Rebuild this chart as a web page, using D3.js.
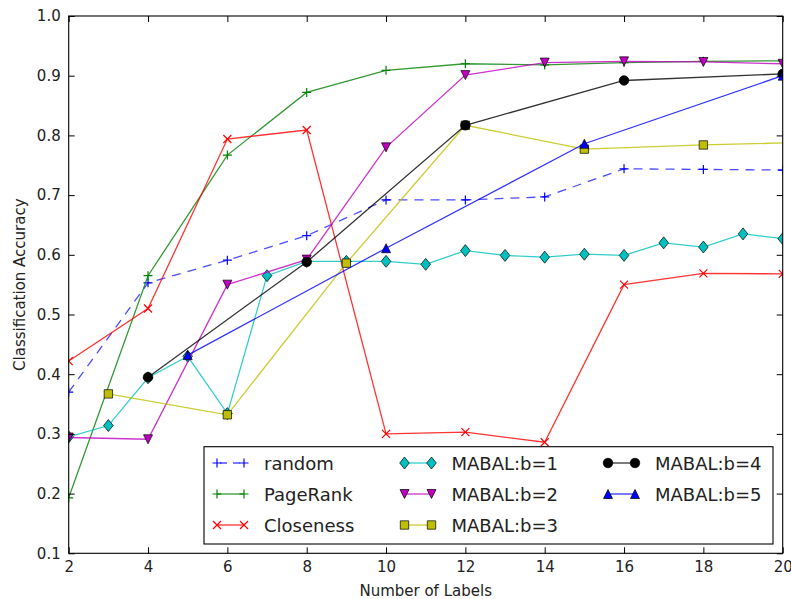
<!DOCTYPE html>
<html>
<head>
<meta charset="utf-8">
<script src="https://cdn.jsdelivr.net/npm/d3@7"></script>
<style>
  body { margin: 0; background: #fff; }
  svg text { font-family: "DejaVu Sans", sans-serif; fill: #222; }
</style>
</head>
<body>
<div id="svganchor"></div>
<script>
let width = 791;
let height = 599;
let margin = ({top: 16, right: 8.3, bottom: 45.7, left: 68.7});

// x values of each series
let xEvery2 = [2, 4, 6, 8, 10, 12, 14, 16, 18, 20];
let xEvery1 = [2, 3, 4, 5, 6, 7, 8, 9, 10, 11, 12, 13, 14, 15, 16, 17, 18, 19, 20];
let xEvery3 = [3, 6, 9, 12, 15, 18, 21];
let xEvery4 = [4, 8, 12, 16, 20];
let xEvery5 = [5, 10, 15, 20];

// accuracies
let randomAcc = [0.37, 0.553, 0.591, 0.632, 0.692, 0.692, 0.697, 0.744, 0.743, 0.742];
let pageRankAcc = [0.193, 0.565, 0.767, 0.872, 0.909, 0.920, 0.918, 0.922, 0.924, 0.925];
let closenessAcc = [0.422, 0.51, 0.794, 0.809, 0.30, 0.303, 0.286, 0.55, 0.569, 0.568];
let mabal1Acc = [0.295, 0.314, 0.394, 0.430, 0.334, 0.565, 0.589, 0.589, 0.589, 0.584,
                 0.607, 0.599, 0.596, 0.601, 0.599, 0.620, 0.613, 0.635, 0.627];
let mabal2Acc = [0.294, 0.291, 0.55, 0.592, 0.780, 0.901, 0.922, 0.924, 0.923, 0.920];
let mabal3Acc = [0.367, 0.332, 0.586, 0.817, 0.777, 0.784, 0.789];
let mabal4Acc = [0.395, 0.588, 0.817, 0.892, 0.903];
let mabal5Acc = [0.432, 0.611, 0.786, 0.90];

let xTicks = [2, 4, 6, 8, 10, 12, 14, 16, 18, 20];
let yTicks = [0.1, 0.2, 0.3, 0.4, 0.5, 0.6, 0.7, 0.8, 0.9, 1.0];

let series = [
    {name: "random", xs: xEvery2, ys: randomAcc, color: "#0000ff", marker: "+", dash: "9,7", alpha: 0.7},
    {name: "PageRank", xs: xEvery2, ys: pageRankAcc, color: "#008000", marker: "+", alpha: 0.8},
    {name: "Closeness", xs: xEvery2, ys: closenessAcc, color: "#ff0000", marker: "x", alpha: 0.8},
    {name: "MABAL:b=1", xs: xEvery1, ys: mabal1Acc, color: "#00bfbf", marker: "D", alpha: 0.8},
    {name: "MABAL:b=2", xs: xEvery2, ys: mabal2Acc, color: "#bf00bf", marker: "v", alpha: 0.8},
    {name: "MABAL:b=3", xs: xEvery3, ys: mabal3Acc, color: "#bfbf00", marker: "s", alpha: 0.8},
    {name: "MABAL:b=4", xs: xEvery4, ys: mabal4Acc, color: "#000000", marker: "o", alpha: 0.8},
    {name: "MABAL:b=5", xs: xEvery5, ys: mabal5Acc, color: "#0000ff", marker: "^", alpha: 0.8}
];

let svg = d3.select("#svganchor")
    .append("svg")
    .attr("width", width)
    .attr("height", height);

let xScale = d3.scaleLinear()
    .domain([2, 20])
    .range([margin.left, width - margin.right]);

let yScale = d3.scaleLinear()
    .domain([0.1, 1.0])
    .range([height - margin.bottom, margin.top]);

// marker shapes, roughly matplotlib sizes
function markerPath(m) {
    if (m === "+") return "M-4.5,0H4.5M0,-4.5V4.5";
    if (m === "x") return "M-4,-4L4,4M-4,4L4,-4";
    if (m === "D") return "M0,-6L4.8,0L0,6L-4.8,0Z";
    if (m === "v") return "M-4.5,-4.5L4.5,-4.5L0,4.5Z";
    if (m === "^") return "M-4.5,4.5L4.5,4.5L0,-4.5Z";
    if (m === "s") return "M-4.2,-4.2H4.2V4.2H-4.2Z";
    return d3.symbol(d3.symbolCircle, 72)();
}

function drawMarker(sel, d) {
    let open = d.marker === "+" || d.marker === "x";
    sel.attr("d", markerPath(d.marker))
        .attr("fill", open ? "none" : d.color)
        .attr("stroke", open ? d.color : "#000")
        .attr("stroke-width", open ? 1.2 : 0.7);
}

svg.append("clipPath")
    .attr("id", "plotclip")
    .append("rect")
    .attr("x", margin.left)
    .attr("y", margin.top)
    .attr("width", width - margin.left - margin.right)
    .attr("height", height - margin.top - margin.bottom);

let plot = svg.append("g").attr("clip-path", "url(#plotclip)");

let line = d3.line()
    .x(d => xScale(d[0]))
    .y(d => yScale(d[1]));

series.forEach(s => {
    let pts = s.xs.map((x, i) => [x, s.ys[i]]);
    let g = plot.append("g");
    g.append("path")
        .datum(pts)
        .attr("fill", "none")
        .attr("stroke", s.color)
        .attr("stroke-opacity", s.alpha)
        .attr("stroke-width", 1.3)
        .attr("stroke-dasharray", s.dash || null)
        .attr("d", line);
    g.selectAll(".mk")
        .data(pts)
        .enter()
        .append("path")
        .attr("class", "mk")
        .attr("transform", d => "translate(" + xScale(d[0]) + "," + yScale(d[1]) + ")")
        .each(function() { drawMarker(d3.select(this), s); });
});

// axes, ticks inward on all four sides
let tickStyle = g => {
    g.selectAll(".domain").remove();
    g.selectAll(".tick line").attr("stroke", "#000");
    g.selectAll("text").style("font-size", "15px").attr("fill", "#222");
};

svg.append("g")
    .attr("transform", "translate(0," + (height - margin.bottom) + ")")
    .call(d3.axisBottom(xScale).tickValues(xTicks).tickSizeInner(-6).tickSizeOuter(0).tickPadding(8).tickFormat(d3.format("d")))
    .call(tickStyle);

svg.append("g")
    .attr("transform", "translate(0," + margin.top + ")")
    .call(d3.axisTop(xScale).tickValues(xTicks).tickSizeInner(-6).tickSizeOuter(0).tickFormat(""))
    .call(tickStyle);

svg.append("g")
    .attr("transform", "translate(" + margin.left + ",0)")
    .call(d3.axisLeft(yScale).tickValues(yTicks).tickSizeInner(-6).tickSizeOuter(0).tickPadding(8).tickFormat(d3.format(".1f")))
    .call(tickStyle);

svg.append("g")
    .attr("transform", "translate(" + (width - margin.right) + ",0)")
    .call(d3.axisRight(yScale).tickValues(yTicks).tickSizeInner(-6).tickSizeOuter(0).tickFormat(""))
    .call(tickStyle);

svg.append("rect")
    .attr("x", margin.left)
    .attr("y", margin.top)
    .attr("width", width - margin.left - margin.right)
    .attr("height", height - margin.top - margin.bottom)
    .attr("fill", "none")
    .attr("stroke", "#000")
    .attr("stroke-width", 1.1);

// axis labels
svg.append("text")
    .attr("x", (margin.left + width - margin.right) / 2)
    .attr("y", 596)
    .style("text-anchor", "middle")
    .style("font-size", "15px")
    .text("Number of Labels");

svg.append("text")
    .attr("transform", "translate(25," + ((margin.top + height - margin.bottom) / 2) + ") rotate(-90)")
    .style("text-anchor", "middle")
    .style("font-size", "15px")
    .text("Classification Accuracy");

// legend, three columns
let legend = svg.append("g");
legend.append("rect")
    .attr("x", 204)
    .attr("y", 446.7)
    .attr("width", 569)
    .attr("height", 97.3)
    .attr("fill", "#fff")
    .attr("stroke", "#000")
    .attr("stroke-width", 1.1);

let colX = [264, 451.5, 655];
let rowY = [463, 494, 525];

series.forEach((s, i) => {
    let tx = colX[Math.floor(i / 3)];
    let ty = rowY[i % 3];
    let g = legend.append("g");
    g.append("line")
        .attr("x1", tx - 47).attr("x2", tx - 20)
        .attr("y1", ty).attr("y2", ty)
        .attr("stroke", s.color)
        .attr("stroke-opacity", s.alpha)
        .attr("stroke-width", 1.3)
        .attr("stroke-dasharray", s.dash ? "7,6" : null)
        .attr("stroke-dashoffset", s.dash ? -3 : null);
    [tx - 47, tx - 20].forEach(mx => {
        g.append("path")
            .attr("transform", "translate(" + mx + "," + ty + ")")
            .each(function() { drawMarker(d3.select(this), s); });
    });
    g.append("text")
        .attr("x", tx)
        .attr("y", ty + 6.5)
        .style("font-size", "18px")
        .text(s.name);
});
</script>
</body>
</html>
